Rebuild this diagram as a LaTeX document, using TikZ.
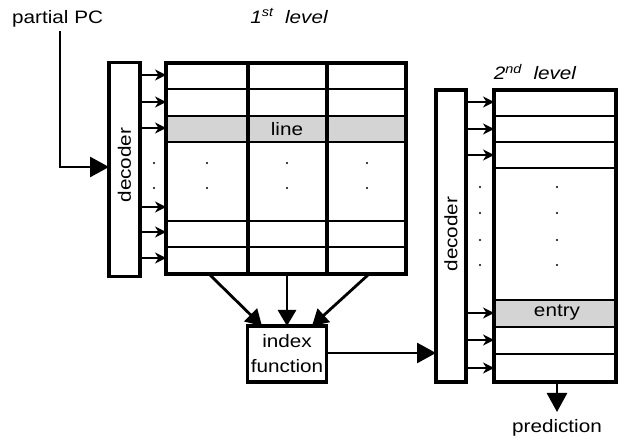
\documentclass[tikz,border=0pt]{standalone}
\usepackage{fontspec}
\setmainfont[FakeStretch=1.15]{Liberation Sans}
\usetikzlibrary{arrows.meta,calc}
\definecolor{rowgray}{HTML}{D4D4D4}
\tikzset{
  frame/.style={draw, line width=3.3pt, inner sep=0pt, outer sep=0pt},
  rowline/.style={line width=2pt},
  colline/.style={line width=3.3pt},
  smallarr/.style={line width=1.4pt, -{Stealth[length=11pt,width=11pt,inset=3.5pt]}},
  bigarr/.style={line width=2.8pt, -{Triangle[length=19pt,width=20pt]}},
  midarr/.style={line width=2.8pt, -{Triangle[length=16pt,width=18pt]}},
  lbl/.style={font=\fontsize{18}{21}\selectfont, inner sep=0pt},
}
\begin{document}
\begin{tikzpicture}[x=1pt,y=-1pt]
\useasboundingbox (0,0) rectangle (619,438);

% labels
\node[lbl, anchor=west] (pc) at (12,19) {partial PC};
\node[lbl, font=\fontsize{18}{21}\selectfont\itshape] (l1) at (289,16) {1\textsuperscript{st}\ \ level};
\node[lbl, font=\fontsize{18}{21}\selectfont\itshape] (l2) at (535,72) {2\textsuperscript{nd}\ \ level};

% first level
\fill[rowgray] (166,116) rectangle (406,142);
\node[frame, minimum width=31pt, minimum height=214pt] (dec1) at (124.5,169.5) {};
\node[lbl, rotate=90] at (124.5,165) {decoder};
\node[frame, minimum width=240pt, minimum height=211pt] (tab1) at (286,168.5) {};
\foreach \y in {89,116,142,221,247}
  \draw[rowline] (tab1.west |- 0,\y) -- (tab1.east |- 0,\y);
\foreach \x in {248,327}
  \draw[colline] (\x,63) -- (\x,274);
\node[lbl] (line) at (287,129) {line};
\foreach \y in {75,102,128,207,232,258}
  \draw[smallarr] (dec1.east |- 0,\y) -- (tab1.west |- 0,\y);
\foreach \x in {154,207,287,367}
  \foreach \y in {163,188}
    \fill (\x,\y) circle (1.1pt);

% partial PC arrow
\coordinate (pcbend) at (60,167);
\draw[bigarr] (60,31) -- (pcbend) -- (dec1.west |- pcbend);

% index function
\node[frame, minimum width=79pt, minimum height=56pt] (idx) at (287,354) {};
\node[lbl] at (287,341) {index};
\node[lbl] at (287,366) {function};
\draw[midarr] (210,275) -- (262,326);
\draw[midarr] (287,275) -- (287,326);
\draw[midarr] (368,275) -- (312,326);

% second level
\fill[rowgray] (494,300) rectangle (616,327);
\node[frame, minimum width=30pt, minimum height=292pt] (dec2) at (451,236) {};
\node[lbl, rotate=90] at (451,234) {decoder};
\node[frame, minimum width=122pt, minimum height=292pt] (tab2) at (555,236) {};
\foreach \y in {116,142,168,300,327,354}
  \draw[rowline] (tab2.west |- 0,\y) -- (tab2.east |- 0,\y);
\node[lbl] (entry) at (557,313) {entry};
\foreach \y in {102,129,155,313,340,368}
  \draw[smallarr] (dec2.east |- 0,\y) -- (tab2.west |- 0,\y);
\foreach \x in {480,557}
  \foreach \y in {187,213,240,265}
    \fill (\x,\y) circle (1.1pt);

\draw[bigarr] (idx.east |- 0,353) -- (dec2.west |- 0,353);

\coordinate (predtip) at (557,412);
\draw[bigarr] (tab2.south -| predtip) -- (predtip);
\node[lbl, anchor=base] (pred) at (557,432) {prediction};
\end{tikzpicture}
\end{document}
